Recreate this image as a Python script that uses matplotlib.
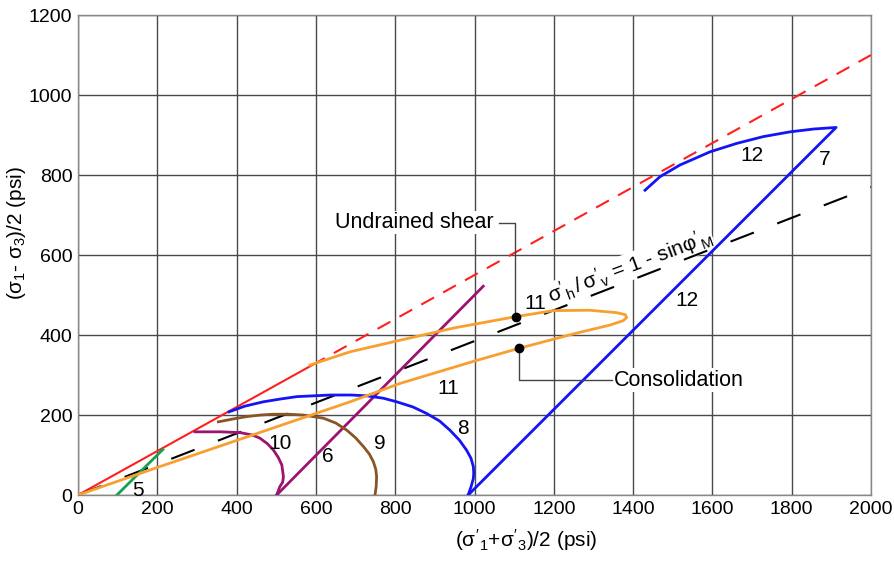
import matplotlib.pyplot as plt
import numpy as np

plt.rcParams['font.family'] = ['Liberation Sans', 'DejaVu Sans']
plt.rcParams['mathtext.fontset'] = 'custom'
plt.rcParams['mathtext.rm'] = 'Liberation Sans'
plt.rcParams['mathtext.it'] = 'Liberation Sans'
plt.rcParams['mathtext.sf'] = 'Liberation Sans'

# -------------------------------
# STRESS PATHS (p', q in psi)
# -------------------------------

# failure envelope q = 0.55 p'
env_x = [0, 590, 2000]
env_slope = 0.55

# K0 line: sigma'h / sigma'v = 1 - sin(phi')
k0_x = [0, 2000]
k0_slope = 0.385

path5_x = [98, 214]
path5_y = [0, 114]

path6_x = [501, 1022]
path6_y = [0, 522]

path10_x = [295, 360, 409, 440, 459, 478, 493, 505, 514, 518, 516, 509, 501]
path10_y = [158, 158, 156, 150, 142, 128, 112, 94, 75, 46, 32, 21, 0]

path9_x = [354, 390, 425, 460, 493, 530, 568, 619, 650, 678, 700, 720, 735, 745, 751, 753, 752, 749]
path9_y = [183, 190, 196, 200, 202, 202, 200, 192, 180, 162, 143, 121, 102, 83, 64, 46, 22, 0]

path8_x = [381, 420, 467, 510, 552, 636, 690, 728, 770, 804, 845, 879, 912, 938, 962,
           980, 991, 997, 998, 997, 991, 984]
path8_y = [208, 222, 233, 240, 246, 250, 250, 248, 242, 233, 220, 204, 185, 162, 137,
           112, 92, 71, 55, 41, 20, 0]

path12_x = [984, 1912, 1855, 1796, 1728, 1661, 1594, 1518, 1468, 1430]
path12_y = [0, 919, 915, 908, 896, 879, 858, 825, 796, 762]

path11_x = [0, 200, 434, 686, 812, 1000, 1113, 1250, 1342, 1375, 1384, 1380, 1358,
            1290, 1199, 1104, 950, 812, 686, 585]
path11_y = [0, 69, 148, 233, 279, 335, 367, 403, 425, 436, 444, 451, 456,
            462, 461, 446, 418, 387, 358, 325]

# points marked on path 11
undrained_pt = (1104, 446)
consol_pt = (1113, 367)

# curve numbers
num_labels = ['5', '6', '7', '8', '9', '10', '11', '11', '12', '12']
num_x = [152, 631, 1884, 972, 762, 509, 1153, 933, 1699, 1535]
num_y = [12, 96, 839, 167, 129, 129, 479, 267, 850, 487]

# -------------------------------
# PLOT
# -------------------------------

fig = plt.figure(figsize=(8.95, 5.61), dpi=100)
ax = fig.add_axes([0.0872, 0.1176, 0.886, 0.8556])

red = '#ff1f1f'
orange = '#f7a030'
blue = '#1414f5'
purple = '#9c1470'
brown = '#8a5526'
green = '#16a050'

ax.plot(env_x[:2], [env_slope * v for v in env_x[:2]], color=red, lw=1.5, zorder=3)
ax.plot(env_x[1:], [env_slope * v for v in env_x[1:]], color=red, lw=1.5,
        dashes=(7, 5), zorder=3)
ax.plot(k0_x, [k0_slope * v for v in k0_x], color='black', lw=1.5,
        dashes=(12, 12), zorder=3)

ax.plot(path5_x, path5_y, color=green, lw=2, zorder=4)
ax.plot(path6_x, path6_y, color=purple, lw=2, zorder=4)
ax.plot(path10_x, path10_y, color=purple, lw=2, zorder=4)
ax.plot(path9_x, path9_y, color=brown, lw=2, zorder=4)
ax.plot(path8_x, path8_y, color=blue, lw=2, zorder=4)
ax.plot(path12_x, path12_y, color=blue, lw=2, zorder=4)
ax.plot(path11_x, path11_y, color=orange, lw=2, zorder=4)

ax.plot(*undrained_pt, 'o', color='black', ms=6, zorder=6)
ax.plot(*consol_pt, 'o', color='black', ms=6, zorder=6)

for lab, x, y in zip(num_labels, num_x, num_y):
    ax.text(x, y, lab, fontsize=15, ha='center', va='center', zorder=5)

# callouts
ax.plot([1062, 1102, 1102], [681, 681, undrained_pt[1]], color='#444444', lw=1, zorder=5)
ax.text(1047, 681, 'Undrained shear', fontsize=15.5, ha='right', va='center',
        bbox=dict(facecolor='white', edgecolor='none', pad=1), zorder=2.5)
ax.plot([consol_pt[0], consol_pt[0], 1346], [consol_pt[1], 287, 287], color='#444444',
        lw=1, zorder=5)
ax.text(1352, 287, 'Consolidation', fontsize=15.5, ha='left', va='center',
        bbox=dict(facecolor='white', edgecolor='none', pad=1), zorder=2.5)

ax.text(1392, 571, r"$\sigma'_h\,/\,\sigma'_v$ = 1 - sin$\varphi'_M$", fontsize=15,
        ha='center', va='center', rotation=20.5, rotation_mode='anchor',
        bbox=dict(facecolor='white', edgecolor='none', pad=0.5), zorder=2.5)

ax.set_xlim(0, 2000)
ax.set_ylim(0, 1200)
ax.set_xticks(np.arange(0, 2001, 200))
ax.set_yticks(np.arange(0, 1201, 200))
ax.grid(True, color='#4a4a4a', lw=1)
ax.set_axisbelow(True)
ax.tick_params(length=0, labelsize=14, pad=4)
for s in ax.spines.values():
    s.set_color('#888888')
    s.set_linewidth(1)

ax.set_xlabel(r"($\sigma'_1$+$\sigma'_3$)/2 (psi)", fontsize=15, va='center')
ax.xaxis.set_label_coords(0.565, -0.094)
ax.set_ylabel(r"($\sigma_1$- $\sigma_3$)/2 (psi)", fontsize=15, va='center')
ax.yaxis.set_label_coords(-0.077, 0.546)

plt.savefig('out.png', dpi=100)
